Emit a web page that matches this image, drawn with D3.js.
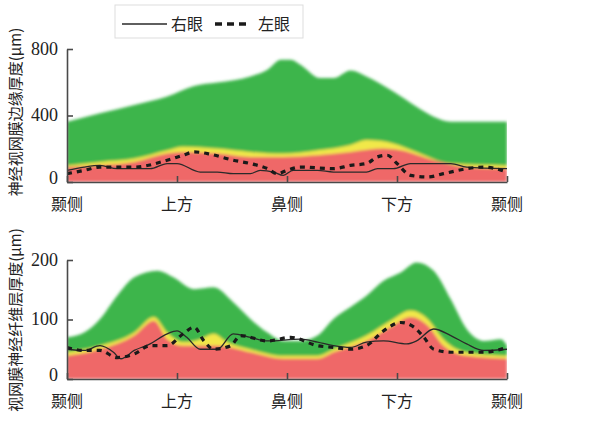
<!DOCTYPE html>
<html>
<head>
<meta charset="utf-8">
<script src="https://cdn.jsdelivr.net/npm/d3@7"></script>
<style>
  body { margin: 0; background: #fff; }
  text { fill: #222; }
</style>
</head>
<body>
<svg width="607" height="424"></svg>
<script>
// positions around the disc, 0-360 degrees
var tickDeg = [0, 90, 180, 270, 360];
var tickLabels = ["颞侧", "上方", "鼻侧", "下方", "颞侧"];

// top panel: rim thickness (um)
var rimGreenX = [0, 27, 55, 82, 104, 123, 150, 164, 175, 183, 191, 207, 218, 232, 245, 267, 286, 300, 314, 355, 360];
var rimGreen  = [363, 413, 463, 514, 578, 598, 635, 675, 735, 735, 705, 625, 625, 671, 635, 544, 453, 393, 363, 363, 363];
var rimYellowX = [0, 27, 55, 82, 95, 123, 150, 177, 205, 232, 245, 267, 286, 314, 360];
var rimYellow  = [100, 121, 141, 191, 212, 201, 181, 171, 191, 222, 252, 232, 181, 111, 100];
var rimRedX = [0, 27, 55, 82, 95, 123, 150, 177, 205, 232, 259, 273, 300, 327, 360];
var rimRed  = [90, 100, 121, 171, 181, 171, 151, 151, 161, 181, 201, 191, 131, 90, 80];
var rimOdX = [0, 14, 27, 41, 68, 82, 90, 109, 123, 136, 150, 158, 169, 177, 185, 205, 218, 245, 254, 267, 281, 314, 327, 360];
var rimOd  = [70, 90, 100, 80, 80, 111, 111, 60, 60, 50, 50, 70, 60, 40, 70, 70, 60, 60, 80, 80, 111, 111, 90, 80];
var rimOsX = [0, 14, 27, 55, 82, 95, 104, 115, 136, 150, 164, 172, 180, 191, 218, 232, 245, 254, 262, 270, 281, 295, 308, 327, 341, 360];
var rimOs  = [50, 70, 90, 90, 131, 161, 181, 171, 131, 111, 80, 50, 70, 90, 80, 100, 111, 151, 161, 111, 40, 30, 50, 80, 90, 60];

// bottom panel: RNFL thickness (um)
var nflGreenX = [0, 14, 27, 41, 55, 74, 87, 104, 120, 136, 150, 164, 177, 191, 205, 218, 232, 245, 259, 273, 286, 300, 314, 327, 341, 355, 360];
var nflGreen  = [70, 78, 101, 140, 171, 182, 171, 151, 154, 129, 101, 78, 64, 64, 73, 101, 121, 140, 165, 179, 196, 182, 134, 84, 64, 67, 56];
var nflYellowX = [0, 27, 55, 71, 82, 95, 109, 120, 131, 150, 177, 205, 218, 245, 267, 281, 295, 308, 327, 360];
var nflYellow  = [45, 56, 78, 104, 78, 62, 67, 76, 62, 50, 39, 39, 50, 73, 101, 115, 101, 67, 45, 39];
var nflRedX = [0, 27, 55, 71, 82, 95, 123, 150, 177, 205, 218, 245, 267, 281, 295, 308, 327, 360];
var nflRed  = [39, 50, 73, 98, 67, 56, 56, 45, 34, 34, 45, 64, 90, 104, 90, 56, 39, 34];
var nflOdX = [0, 14, 27, 38, 44, 55, 68, 82, 90, 98, 109, 123, 136, 150, 164, 191, 205, 218, 232, 245, 259, 278, 286, 300, 314, 327, 341, 360];
var nflOd  = [50, 48, 56, 45, 34, 48, 59, 76, 81, 70, 50, 50, 76, 70, 64, 67, 62, 56, 53, 62, 64, 59, 64, 84, 73, 59, 48, 50];
var nflOsX = [0, 14, 27, 41, 55, 68, 82, 95, 104, 112, 120, 134, 142, 164, 183, 205, 218, 232, 245, 259, 273, 284, 292, 300, 314, 327, 341, 360];
var nflOs  = [53, 48, 48, 36, 42, 56, 56, 76, 87, 64, 50, 56, 73, 64, 70, 56, 53, 50, 56, 81, 95, 87, 70, 50, 45, 45, 45, 53];

var svg = d3.select("svg");
var green = "#3db54b", yellow = "#f1e84a", red = "#ef6768";

var defs = svg.append("defs");
defs.append("filter").attr("id", "soft")
  .append("feGaussianBlur").attr("stdDeviation", 1.6);

function zip(xs, ys) {
  return xs.map(function(x, i) { return [x, ys[i]]; });
}

function panel(top, bottom, maxY, yTicks, title, titleY, bands, od, os) {
  var x = d3.scaleLinear().domain([0, 360]).range([67, 507]);
  var y = d3.scaleLinear().domain([0, maxY]).range([bottom, top]);

  var clipId = "clip" + top;
  defs.append("clipPath").attr("id", clipId)
    .append("rect").attr("x", 67).attr("y", top - 20)
    .attr("width", 440).attr("height", bottom - top + 20);

  var area = d3.area()
    .x(function(d) { return x(d[0]); })
    .y0(y(0))
    .y1(function(d) { return y(d[1]); })
    .curve(d3.curveMonotoneX);

  var g = svg.append("g").attr("clip-path", "url(#" + clipId + ")");
  var ga = g.append("g").attr("filter", "url(#soft)");
  bands.forEach(function(b) {
    ga.append("path").datum(b.data).attr("d", area).attr("fill", b.color);
  });

  var line = d3.line()
    .x(function(d) { return x(d[0]); })
    .y(function(d) { return y(d[1]); })
    .curve(d3.curveMonotoneX);

  g.append("path").datum(od).attr("d", line)
    .attr("fill", "none").attr("stroke", "#2a2a2a").attr("stroke-width", 1.3);
  g.append("path").datum(os).attr("d", line)
    .attr("fill", "none").attr("stroke", "#1a1a1a").attr("stroke-width", 3.2)
    .attr("stroke-dasharray", "5,5");

  // axes, ticks pointing inward
  var yAxis = svg.append("g").attr("transform", "translate(67,0)")
    .call(d3.axisRight(y).tickValues(yTicks).tickSize(6).tickSizeOuter(0).tickFormat(d3.format("d")));
  yAxis.selectAll("text").attr("x", -9).attr("text-anchor", "end")
    .attr("dy", function(d) { return d === 0 ? "0.1em" : "0.3em"; })
    .style("font-family", "'Liberation Serif', serif").style("font-size", "18px");

  var xAxis = svg.append("g").attr("transform", "translate(0," + bottom + ")")
    .call(d3.axisTop(x).tickValues(tickDeg).tickSize(6).tickSizeOuter(0).tickFormat(""));

  [yAxis, xAxis].forEach(function(a) {
    a.select(".domain").attr("stroke", "#4a4a4a").attr("stroke-width", 1.6);
    a.selectAll(".tick line").attr("stroke", "#4a4a4a").attr("stroke-width", 1.6);
  });

  svg.append("g").selectAll("text").data(tickDeg).join("text")
    .attr("x", function(d) { return x(d); })
    .attr("y", bottom + 28)
    .attr("text-anchor", "middle")
    .style("font-family", "'Noto Sans CJK SC', sans-serif").style("font-size", "16px")
    .text(function(d, i) { return tickLabels[i]; });

  svg.append("text")
    .attr("transform", "translate(21," + titleY + ") rotate(-90)")
    .attr("text-anchor", "middle")
    .style("font-family", "'Noto Sans CJK SC', sans-serif").style("font-size", "15px")
    .text(title);
}

panel(49, 182, 800, [0, 400, 800], "神经视网膜边缘厚度(μm)", 112,
  [{ data: zip(rimGreenX, rimGreen), color: green },
   { data: zip(rimYellowX, rimYellow), color: yellow },
   { data: zip(rimRedX, rimRed), color: red }],
  zip(rimOdX, rimOd), zip(rimOsX, rimOs));

panel(260, 379, 200, [0, 100, 200], "视网膜神经纤维层厚度(μm)", 320,
  [{ data: zip(nflGreenX, nflGreen), color: green },
   { data: zip(nflYellowX, nflYellow), color: yellow },
   { data: zip(nflRedX, nflRed), color: red }],
  zip(nflOdX, nflOd), zip(nflOsX, nflOs));

// legend
var lg = svg.append("g");
lg.append("rect").attr("x", 115).attr("y", 5).attr("width", 188).attr("height", 33)
  .attr("fill", "#fff").attr("stroke", "#ddd").attr("stroke-width", 1);
lg.append("line").attr("x1", 122).attr("x2", 167).attr("y1", 24).attr("y2", 24)
  .attr("stroke", "#2a2a2a").attr("stroke-width", 1.6);
lg.append("text").attr("x", 171).attr("y", 30)
  .style("font-family", "'Noto Sans CJK SC', sans-serif").style("font-size", "16px").text("右眼");
lg.append("line").attr("x1", 215).attr("x2", 251).attr("y1", 24).attr("y2", 24)
  .attr("stroke", "#1a1a1a").attr("stroke-width", 3.5).attr("stroke-dasharray", "7,5");
lg.append("text").attr("x", 258).attr("y", 30)
  .style("font-family", "'Noto Sans CJK SC', sans-serif").style("font-size", "16px").text("左眼");
</script>
</body>
</html>
